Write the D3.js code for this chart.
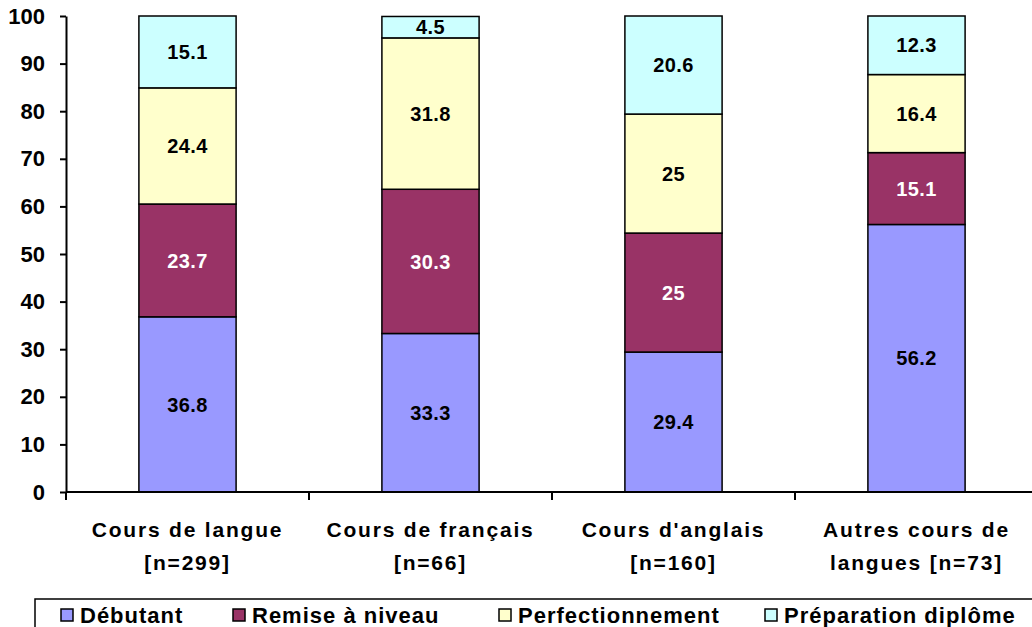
<!DOCTYPE html>
<html>
<head>
<meta charset="utf-8">
<script src="https://cdn.jsdelivr.net/npm/d3@7"></script>
<style>
  body { margin: 0; background: #fff; }
  svg { display: block; font-family: "Liberation Sans", Arial, sans-serif; font-weight: bold; }
</style>
</head>
<body>
<svg id="chart"></svg>
<script>
const categories = [["Cours de langue", "[n=299]"], ["Cours de français", "[n=66]"], ["Cours d'anglais", "[n=160]"], ["Autres cours de", "langues [n=73]"]];
const seriesNames = ["Débutant", "Remise à niveau", "Perfectionnement", "Préparation diplôme"];
const debutant = [36.8, 33.3, 29.4, 56.2];
const remise = [23.7, 30.3, 25, 15.1];
const perfection = [24.4, 31.8, 25, 16.4];
const preparation = [15.1, 4.5, 20.6, 12.3];
const yTicks = [0, 10, 20, 30, 40, 50, 60, 70, 80, 90, 100];
const colors = ["#9999FF", "#993366", "#FFFFCC", "#CCFFFF"];
const labelColors = ["#000", "#fff", "#000", "#000"];

const w = 1032, h = 627;
const svg = d3.select("#chart").attr("width", w).attr("height", h);

const x = d3.scaleBand().domain(d3.range(categories.length)).range([66, 1038])
  .paddingInner(0.6).paddingOuter(0.3);
const y = d3.scaleLinear().domain([0, 100]).range([492, 16]);

const rows = categories.map((c, i) => ({ i, "0": debutant[i], "1": remise[i], "2": perfection[i], "3": preparation[i] }));
const stacked = d3.stack().keys(["0", "1", "2", "3"])(rows);

// bars
stacked.forEach((layer, s) => {
  const g = svg.append("g");
  g.selectAll("rect").data(layer).enter().append("rect")
    .attr("x", d => x(d.data.i))
    .attr("y", d => y(d[1]))
    .attr("width", x.bandwidth())
    .attr("height", d => y(d[0]) - y(d[1]))
    .attr("fill", colors[s])
    .attr("stroke", "#000")
    .attr("stroke-width", 1.5);
  g.selectAll("text").data(layer).enter().append("text")
    .attr("x", d => x(d.data.i) + x.bandwidth() / 2)
    .attr("y", d => (y(d[0]) + y(d[1])) / 2)
    .attr("dy", "0.36em")
    .attr("text-anchor", "middle")
    .attr("font-size", 20)
    .attr("letter-spacing", 0.4)
    .attr("fill", labelColors[s])
    .text(d => d3.format("~")(+(d[1] - d[0]).toFixed(1)));
});

// y axis
const yAxis = svg.append("g").attr("transform", "translate(66,0)")
  .call(d3.axisLeft(y).tickValues(yTicks).tickSize(6).tickSizeOuter(0));
yAxis.select(".domain").attr("stroke", "#000").attr("stroke-width", 2);
yAxis.selectAll(".tick line").attr("stroke", "#000").attr("stroke-width", 2);
yAxis.selectAll(".tick text").attr("font-size", 22).attr("font-family", "Liberation Sans, Arial, sans-serif")
  .attr("font-weight", "bold").attr("fill", "#000").attr("x", -21);

// x axis
svg.append("line").attr("x1", 66).attr("x2", 1038).attr("y1", y(0)).attr("y2", y(0))
  .attr("stroke", "#000").attr("stroke-width", 2);
svg.selectAll(".xtick").data(d3.range(categories.length)).enter().append("line")
  .attr("x1", i => x(i) - x.step() * 0.3).attr("x2", i => x(i) - x.step() * 0.3)
  .attr("y1", y(0)).attr("y2", y(0) + 8)
  .attr("stroke", "#000").attr("stroke-width", 2);

const catLabels = svg.selectAll(".cat").data(categories).enter().append("text")
  .attr("text-anchor", "middle")
  .attr("font-size", 21)
  .attr("letter-spacing", 1.8)
  .attr("transform", (d, i) => `translate(${x(i) + x.bandwidth() / 2},0)`);
catLabels.selectAll("tspan").data(d => d).enter().append("tspan")
  .attr("x", 0).attr("y", (d, k) => 537 + k * 33).text(d => d);

// legend
svg.append("rect").attr("x", 35).attr("y", 599).attr("width", 1010).attr("height", 40)
  .attr("fill", "#fff").attr("stroke", "#000").attr("stroke-width", 1.5);
const legendX = [61, 233, 499, 765];
const lg = svg.selectAll(".leg").data(seriesNames).enter().append("g")
  .attr("transform", (d, i) => `translate(${legendX[i]},609)`);
lg.append("rect").attr("width", 12).attr("height", 12)
  .attr("fill", (d, i) => colors[i]).attr("stroke", "#000").attr("stroke-width", 1.5);
lg.append("text").attr("x", 19).attr("y", 14)
  .attr("font-size", 22).attr("letter-spacing", 1.0).text(d => d);
</script>
</body>
</html>
